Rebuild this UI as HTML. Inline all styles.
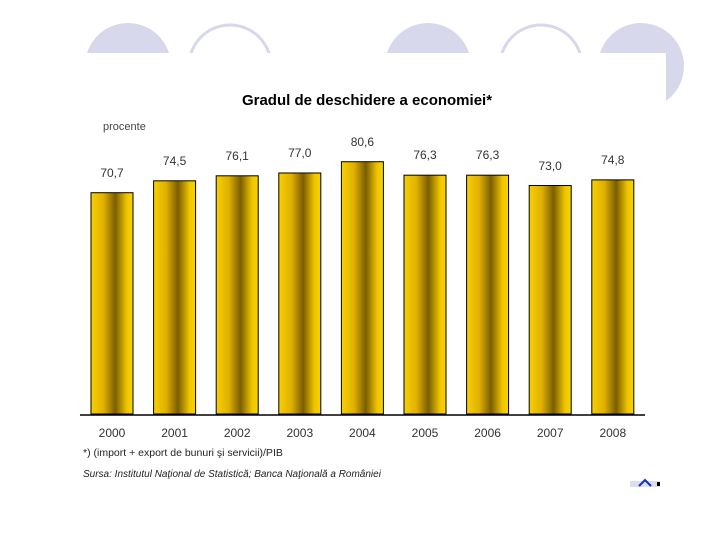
<!DOCTYPE html>
<html><head><meta charset="utf-8"><style>
body{margin:0;width:720px;height:540px;background:#fff;position:relative;overflow:hidden;font-family:"Liberation Sans",sans-serif}
.t{position:absolute;white-space:nowrap}
</style></head><body>
<svg width="720" height="540" style="position:absolute;left:0;top:0">
<defs>
<linearGradient id="g" x1="0" x2="1" y1="0" y2="0">
<stop offset="0" stop-color="#f7d000"/><stop offset="0.3" stop-color="#e0b000"/><stop offset="0.58" stop-color="#7a5e00"/><stop offset="0.85" stop-color="#efc400"/><stop offset="1" stop-color="#f8d400"/>
</linearGradient>
<clipPath id="c1"><rect x="0" y="0" width="720" height="53"/></clipPath>
</defs>
<g>
<g clip-path="url(#c1)">
<circle cx="128" cy="66" r="43" fill="#d8d8ec"/>
<circle cx="230" cy="66" r="41" fill="none" stroke="#d8d8ec" stroke-width="3"/>
<circle cx="428" cy="66" r="43" fill="#d8d8ec"/>
<circle cx="541" cy="66" r="41" fill="none" stroke="#d8d8ec" stroke-width="3"/>
</g>
<circle cx="641" cy="66" r="43" fill="#d8d8ec"/>
<rect x="76" y="53" width="590" height="440" fill="#fff"/>
</g>
<g id="bars"></g>
<line x1="80" y1="415" x2="645" y2="415" stroke="#000" stroke-width="1.5"/>
<path d="M630 487 L660 487 L660 481 L630 481Z" fill="#dde"/>
<path d="M639 486 L645 480 L651 486" stroke="#1030c0" stroke-width="2" fill="none"/>
<rect x="657" y="482" width="3" height="4" fill="#000"/>
</svg>
<div class="t" style="left:0;width:734px;text-align:center;top:92px;font-size:15px;font-weight:bold">Gradul de deschidere a economiei*</div>
<div class="t" style="left:103px;top:121px;font-size:11px;color:#444">procente</div>
<div class="t" style="left:83px;top:447px;font-size:10.5px;color:#222">*) (import + export de bunuri şi servicii)/PIB</div>
<div class="t" style="left:83px;top:469px;font-size:10px;font-style:italic;color:#222">Sursa: Institutul Naţional de Statistică; Banca Naţională a României</div>
<script>
const years=["2000","2001","2002","2003","2004","2005","2006","2007","2008"];
const values=[70.7,74.5,76.1,77.0,80.6,76.3,76.3,73.0,74.8];
const labels=["70,7","74,5","76,1","77,0","80,6","76,3","76,3","73,0","74,8"];
const base=414,scale=3.13,x0=112,step=62.6,bw=42;
const xf=i=>x0+i*step, yf=v=>base-v*scale;
const ns="http://www.w3.org/2000/svg",g=document.getElementById('bars');
values.forEach((v,i)=>{
 const r=document.createElementNS(ns,'rect');
 r.setAttribute('x',xf(i)-bw/2);r.setAttribute('y',yf(v));r.setAttribute('width',bw);r.setAttribute('height',base-yf(v));
 r.setAttribute('fill','url(#g)');r.setAttribute('stroke','#000');r.setAttribute('stroke-width','1');
 
 
 g.appendChild(r);
 const t=document.createElement('div');t.className='t';
 t.style.cssText=`left:${xf(i)-30}px;width:60px;text-align:center;top:${yf(v)-27}px;font-size:12px;color:#333`;
 t.textContent=labels[i];
 
 
 document.body.appendChild(t);
 const y=document.createElement('div');y.className='t';
 y.style.cssText=`left:${xf(i)-30}px;width:60px;text-align:center;top:426px;font-size:12px;color:#333`;
 y.textContent=years[i];
 
 
 document.body.appendChild(y);
});
</script>
</body></html>
